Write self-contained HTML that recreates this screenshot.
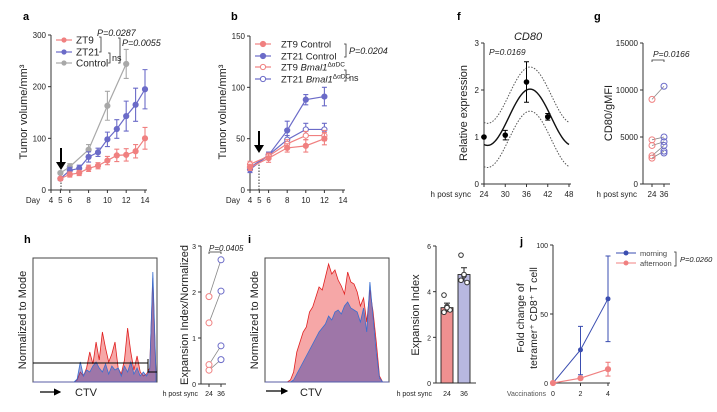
<!DOCTYPE html>
<html><head><meta charset="utf-8"><style>
body{margin:0;background:#fff}
svg{display:block;font-family:"Liberation Sans",sans-serif}
</style></head><body>
<svg id="fig" width="717" height="412" viewBox="0 0 717 412">
<defs><marker id="ah" markerWidth="6" markerHeight="6" refX="5" refY="3" orient="auto"><path d="M0,0L6,3L0,6Z" fill="#000"/></marker></defs>
</svg>
<script>
// ---- data ----
const aDays=[5,6,7,8,9,10,11,12,13,14];
const aZT9=[22,30,33,42,47,57,67,68,75,100];
const aZT9e=[3,5,5,6,6,8,12,12,13,21];
const aZT21=[22,38,42,64,73,98,118,143,165,195];
const aZT21e=[3,6,6,10,8,14,18,29,32,38];
const aCtrlDays=[5,6,8,10,12];
const aCtrl=[33,45,78,163,244];
const aCtrle=[3,6,10,28,28];
const bDays=[4,6,8,10,12];
const bZT9c=[22,31,41,43,50];const bZT9ce=[3,4,4,6,6];
const bZT21c=[20,34,58,88,91];const bZT21ce=[3,3,9,5,9];
const bZT9b=[25,33,45,53,53];const bZT9be=[3,3,4,4,5];
const bZT21b=[22,34,49,59,59];const bZT21be=[3,3,4,6,6];
const fHours=[24,30,36,42];const fVals=[1,1.04,2.17,1.43];const fErr=[0,0.1,0.43,0.07];
const gRed=[9000,4700,4100,3000,2750];const gBlue=[10400,5000,4500,4100,3500];
const hRed=[1.9,1.33,0.42,0.3];const hBlue=[2.7,2.02,0.83,0.53];
const iBars=[3.3,4.75];const iBarErr=[0.2,0.3];
const iPts24=[3.85,3.35,3.2,3.1,3.3];const iPts36=[5.6,4.7,4.4,4.5,4.75];
const jX=[0,2,4];const jMorning=[0,24,61];const jMornLo=[0,6,30];const jMornHi=[0,41,92];
const jAft=[0,3.5,10];const jAftE=[0,1,5];
const hHistRed=[0,0,0,0,0,0,0,0,0,0,0,0,0,0,2,10,6,14,30,18,40,22,50,34,20,28,40,14,8,22,54,30,12,26,10,6,8,14,104,6];
const hHistBlue=[0,0,0,0,0,0,0,0,0,0,0,0,0,0,3,20,6,12,10,16,20,14,10,18,8,16,12,14,6,16,10,20,8,14,6,10,6,12,110,8];
const iHistRed=[0,0,0,0,0,0,0,0,2,10,30,40,50,55,70,75,85,95,92,105,118,108,112,102,96,88,110,100,98,90,76,84,60,92,70,40,6,0,0,0];
const iHistBlue=[0,0,0,0,0,0,0,0,0,2,8,14,20,26,32,38,44,50,54,58,66,62,70,72,68,76,80,74,72,70,60,74,50,100,64,30,4,0,0,0];

const NS="http://www.w3.org/2000/svg";const S=document.getElementById('fig');
function mk(t,a,p){const e=document.createElementNS(NS,t);for(const k in a)e.setAttribute(k,a[k]);(p||S).appendChild(e);return e;}
function tx(x,y,s,o){const e=mk('text',Object.assign({x:x,y:y,'font-size':8,fill:'#222'},o||{}));e.textContent=s;return e;}
function ln(x1,y1,x2,y2,c,w,o){return mk('line',Object.assign({x1:x1,y1:y1,x2:x2,y2:y2,stroke:c||'#333','stroke-width':w||1},o||{}));}
function lin(d0,d1,r0,r1){return v=>r0+(v-d0)*(r1-r0)/(d1-d0);}
const RED='#f08080',BLUE='#6b6bc8',GRAY='#a8a8a8';
function label(x,y,s){const e=tx(x,y,s,{'font-size':11,'font-weight':'bold',fill:'#000'});}
function ytitle(x,y,s,n,fs){const e=tx(x,y,s,{'font-size':fs||11,'text-anchor':'middle',transform:`rotate(-90 ${x} ${y})`});return e;}
function series(xs,ys,es,X,Y,col,open,name){
  const g=mk('g',{});
  mk('polyline',{points:xs.map((d,i)=>X(d)+','+Y(ys[i])).join(' '),fill:'none',stroke:col,'stroke-width':1.2},g);
  xs.forEach((d,i)=>{if(es&&es[i]){const x=X(d);mk('path',{d:`M${x},${Y(ys[i]-es[i])}V${Y(ys[i]+es[i])}M${x-2.5},${Y(ys[i]-es[i])}h5M${x-2.5},${Y(ys[i]+es[i])}h5`,stroke:col,'stroke-width':1.1,fill:'none'},g);}
    const c=mk('circle',{cx:X(d),cy:Y(ys[i]),r:2.6,fill:open?'#fff':col,stroke:col,'stroke-width':1},g);});
}
// ---- panel a ----
label(23,20,'a');
{const X=lin(4,14,51,145),Y=lin(0,300,190,35);
ln(51,35,51,190);ln(51,190,147,190);
[0,100,200,300].forEach(v=>{ln(48,Y(v),51,Y(v));const t=tx(46,Y(v)+3,String(v),{'text-anchor':'end'});});
[4,5,6,8,10,12,14].forEach(v=>{ln(X(v),190,X(v),193);const t=tx(X(v),203,String(v),{'text-anchor':'middle'});});
tx(33,203,'Day',{'text-anchor':'middle'});
ytitle(27,112,'Tumor volume/mm³','a-y-axis-title');
ln(61,190,61,175,'#333',1,{'stroke-dasharray':'1.5,1.5'});
mk('path',{d:'M61,148V165',stroke:'#000','stroke-width':2});mk('path',{d:'M56,162L61,170L66,162Z',fill:'#000'});
series(aCtrlDays,aCtrl,aCtrle,X,Y,GRAY,false,'control-series');
series(aDays,aZT21,aZT21e,X,Y,BLUE,false,'zt21-series');
series(aDays,aZT9,aZT9e,X,Y,RED,false,'zt9-series');
[['ZT9',RED,40],['ZT21',BLUE,52],['Control',GRAY,63]].forEach(([n,c,y])=>{ln(56,y,72,y,c,1.2);mk('circle',{cx:64,cy:y,r:2.6,fill:c});const t=tx(76,y+3.5,n,{'font-size':10});});
mk('path',{d:'M99,37h2V52h-2M108,53h2V63h-2M118,38h2V63h-2',fill:'none',stroke:'#333','stroke-width':0.8});
tx(112,61,'ns',{'font-size':9});tx(97,36,'P=0.0287',{'font-size':9,'font-style':'italic'});tx(122,46,'P=0.0055',{'font-size':9,'font-style':'italic'});}
// ---- panel b ----
label(231,20,'b');
{const X=lin(4,14,250,343),Y=lin(0,150,190,36);
ln(250,36,250,190);ln(250,190,345,190);
[0,50,100,150].forEach(v=>{ln(247,Y(v),250,Y(v));const t=tx(245,Y(v)+3,String(v),{'text-anchor':'end'});});
[4,5,6,8,10,12,14].forEach(v=>{ln(X(v),190,X(v),193);const t=tx(X(v),203,String(v),{'text-anchor':'middle'});});
tx(233,203,'Day',{'text-anchor':'middle'});
ytitle(226,112,'Tumor volume/mm³','b-y-axis-title');
ln(259,190,259,160,'#333',1,{'stroke-dasharray':'1.5,1.5'});
mk('path',{d:'M259,131V148',stroke:'#000','stroke-width':2});mk('path',{d:'M254,145L259,153L264,145Z',fill:'#000'});
series(bDays,bZT21c,bZT21ce,X,Y,BLUE,false,'zt21-control-series');
series(bDays,bZT21b,bZT21be,X,Y,BLUE,true,'zt21-bmal1-series');
series(bDays,bZT9b,bZT9be,X,Y,RED,true,'zt9-bmal1-series');
series(bDays,bZT9c,bZT9ce,X,Y,RED,false,'zt9-control-series');
[['ZT9 Control',RED,44,0],['ZT21 Control',BLUE,56,0],['ZT9 ',RED,67,1],['ZT21 ',BLUE,79,1]].forEach(([n,c,y,o])=>{ln(255,y,271,y,c,1.2);mk('circle',{cx:263,cy:y,r:2.6,fill:o?'#fff':c,stroke:c});const t=tx(281,y+3.5,n,{'font-size':9.5});if(o){const s=mk('tspan',{'font-style':'italic'},t);s.textContent='Bmal1';const u=mk('tspan',{'font-size':6.5,dy:-4},t);u.textContent='ΔαDC';}});
mk('path',{d:'M344,44h2V57h-2M344,70h2V81h-2',fill:'none',stroke:'#333','stroke-width':0.8});
tx(349,81,'ns',{'font-size':9});tx(349,54,'P=0.0204',{'font-size':9,'font-style':'italic'});}
// ---- panel f ----
label(457,20,'f');
{const X=lin(24,48,484,569),Y=lin(0,3,184,43);
tx(528,40,'CD80',{'font-size':11,'font-style':'italic','text-anchor':'middle'});
ytitle(467,113,'Relative expression','f-y-axis-title');
ln(484,43,484,184);ln(484,184,571,184);
[0,1,2,3].forEach(v=>{ln(481,Y(v),484,Y(v));tx(479,Y(v)+3,String(v),{'text-anchor':'end'});});
[24,30,36,42,48].forEach(v=>{ln(X(v),184,X(v),187);tx(X(v),197,String(v),{'text-anchor':'middle'});});
tx(471,197,'h post sync',{'text-anchor':'end'});
tx(489,55,'P=0.0169',{'font-size':8.5,'font-style':'italic'});
const fit=h=>1.42+0.6*Math.cos(2*Math.PI*(h-37)/24);
[0,0.47,-0.47].forEach((o,k)=>{let p='';for(let h=24;h<=48;h+=0.5)p+=(p?'L':'M')+X(h)+','+Y(fit(h)+o);const e=mk('path',{d:p,fill:'none',stroke:k?'#555':'#111','stroke-width':k?1:1.4,'stroke-dasharray':k?'1.5,1.5':'none'});});
fHours.forEach((h,i)=>{const x=X(h);if(fErr[i])mk('path',{d:`M${x},${Y(fVals[i]-fErr[i])}V${Y(fVals[i]+fErr[i])}M${x-2.5},${Y(fVals[i]-fErr[i])}h5M${x-2.5},${Y(fVals[i]+fErr[i])}h5`,stroke:'#000',fill:'none'});const c=mk('circle',{cx:x,cy:Y(fVals[i]),r:2.8,fill:'#000'});});}
// ---- panel g ----
label(594,20,'g');
{const X=lin(24,36,652,664),Y=lin(0,15000,184,43);
ytitle(612,113,'CD80/gMFI','g-y-axis-title');
ln(643,43,643,184);ln(643,184,670,184);
[0,5000,10000,15000].forEach(v=>{ln(640,Y(v),643,Y(v));tx(638,Y(v)+3,String(v),{'text-anchor':'end'});});
[24,36].forEach(v=>{ln(X(v),184,X(v),187);tx(X(v),197,String(v),{'text-anchor':'middle'});});
tx(637,197,'h post sync',{'text-anchor':'end'});
mk('path',{d:'M652,62V60H664V62',fill:'none',stroke:'#333','stroke-width':0.8});tx(653,57,'P=0.0166',{'font-size':8.5,'font-style':'italic'});
gRed.forEach((v,i)=>{ln(X(24),Y(v),X(36),Y(gBlue[i]),'#888',0.8);const a=mk('circle',{cx:X(24),cy:Y(v),r:3,fill:'none',stroke:RED});const b=mk('circle',{cx:X(36),cy:Y(gBlue[i]),r:3,fill:'none',stroke:BLUE});});
mk('circle',{cx:X(36),cy:Y(3300),r:3,fill:'none',stroke:BLUE});}
// ---- histograms ----
function hist(x0,x1,yb,arrR,arrB,scale,name){
  const n=arrR.length,X=i=>x0+i*(x1-x0)/(n-1);
  [[arrR,'rgba(235,60,60,0.45)','#e02020'],[arrB,'rgba(70,70,170,0.5)','#3a6fd0']].forEach(([a,f,s],k)=>{
    let p=`M${x0},${yb}`;a.forEach((v,i)=>p+=`L${X(i)},${yb-v*scale}`);p+=`L${x1},${yb}Z`;
    const e=mk('path',{d:p,fill:f,stroke:s,'stroke-width':0.8});});
}
label(24,243,'h');
{const b=mk('rect',{x:33,y:258,width:124,height:124,fill:'none',stroke:'#444'});
hist(33,156,382,hHistRed,hHistBlue,1,'h-histogram');
ln(33,363,148,363,'#000',1);mk('path',{d:'M148,359V372H157M148,372',fill:'none',stroke:'#000'});
ytitle(26,320,'Normalized to Mode','h-y-axis-title');
ln(40,392,60,392,'#000',1.2,{'marker-end':'url(#ah)'});tx(75,396,'CTV',{'font-size':11});
const X=lin(24,36,209,221),Y=lin(0,3,384,246);
ytitle(188,315,'Expansion Index/Normalized','h-scatter-y-title');
ln(201,246,201,384);ln(201,384,226,384);
[0,1,2,3].forEach(v=>{ln(198,Y(v),201,Y(v));tx(196,Y(v)+3,String(v),{'text-anchor':'end','font-size':7});});
[24,36].forEach(v=>{ln(X(v),384,X(v),387);tx(X(v),396,String(v),{'text-anchor':'middle','font-size':7});});
tx(198,396,'h post sync',{'text-anchor':'end','font-size':7});
mk('path',{d:'M209,254V252H221V254',fill:'none',stroke:'#333','stroke-width':0.8});tx(209,251,'P=0.0405',{'font-size':8,'font-style':'italic'});
hRed.forEach((v,i)=>{ln(X(24),Y(v),X(36),Y(hBlue[i]),'#888',0.8);const a=mk('circle',{cx:X(24),cy:Y(v),r:3,fill:'#fff',stroke:RED});const c=mk('circle',{cx:X(36),cy:Y(hBlue[i]),r:3,fill:'#fff',stroke:BLUE});});}
// ---- panel i ----
label(248,243,'i');
{const b=mk('rect',{x:265,y:258,width:124,height:124,fill:'none',stroke:'#444'});
hist(265,389,382,iHistRed,iHistBlue,1,'i-histogram');
ytitle(258,320,'Normalized to Mode','i-y-axis-title');
ln(266,391,287,391,'#000',1.2,{'marker-end':'url(#ah)'});tx(300,396,'CTV',{'font-size':11});
const Y=lin(0,6,383,246),cx=[447,464];
ytitle(419,315,'Expansion Index','i-bar-y-title');
ln(436,246,436,383);ln(436,383,476,383);
[0,2,4,6].forEach(v=>{ln(433,Y(v),436,Y(v));tx(431,Y(v)+3,String(v),{'text-anchor':'end','font-size':7});});
['24','36'].forEach((s,k)=>{tx(cx[k],396,s,{'text-anchor':'middle','font-size':7});});
tx(432,396,'h post sync',{'text-anchor':'end','font-size':7});
iBars.forEach((v,k)=>{const r=mk('rect',{x:cx[k]-6,y:Y(v),width:12,height:383-Y(v),fill:k?'#b8b8e0':'#ef9090',stroke:'#222','stroke-width':0.9});
mk('path',{d:`M${cx[k]},${Y(v-iBarErr[k])}V${Y(v+iBarErr[k])}M${cx[k]-3},${Y(v+iBarErr[k])}h6`,stroke:'#222',fill:'none'});});
[iPts24,iPts36].forEach((a,k)=>a.forEach((v,i)=>{const c=mk('circle',{cx:cx[k]+(i%3-1)*3,cy:Y(v),r:2.3,fill:'#fff',stroke:'#333'});}));}
// ---- panel j ----
label(520,245,'j');
{const X=lin(0,4,553,608),Y=lin(0,100,383,245);
ytitle(524,318,'Fold change of','j-y-title-1',10.5);ytitle(537,318,'tetramer⁺ CD8⁺ T cell','j-y-title-2',10.5);
ln(553,245,553,383);ln(553,383,610,383);
[0,50,100].forEach(v=>{ln(550,Y(v),553,Y(v));tx(548,Y(v)+3,String(v),{'text-anchor':'end','font-size':7});});
[0,2,4].forEach(v=>{ln(X(v),383,X(v),386);tx(X(v),396,String(v),{'text-anchor':'middle','font-size':7});});
tx(546,396,'Vaccinations',{'text-anchor':'end','font-size':7,fill:'#555'});
const gm=mk('g',{});
mk('polyline',{points:jX.map((d,i)=>X(d)+','+Y(jMorning[i])).join(' '),fill:'none',stroke:'#3a4db0','stroke-width':1},gm);
jX.forEach((d,i)=>{if(jMornHi[i])mk('path',{d:`M${X(d)},${Y(jMornLo[i])}V${Y(jMornHi[i])}M${X(d)-2.5},${Y(jMornLo[i])}h5M${X(d)-2.5},${Y(jMornHi[i])}h5`,stroke:'#3a4db0',fill:'none'},gm);mk('circle',{cx:X(d),cy:Y(jMorning[i]),r:2.5,fill:'#3a4db0'},gm);});
series(jX,jAft,jAftE,X,Y,RED,false,'afternoon-series');
[['morning','#3a4db0',253],['afternoon',RED,263]].forEach(([n,c,y])=>{ln(616,y,636,y,c,1);mk('circle',{cx:626,cy:y,r:2.5,fill:c});const t=tx(640,y+3,n,{'font-size':7.5,fill:'#444'});});
mk('path',{d:'M674,252h2V266h-2',fill:'none',stroke:'#333','stroke-width':0.8});tx(680,262,'P=0.0260',{'font-size':7.5,'font-style':'italic'});}
</script>
</body></html>
